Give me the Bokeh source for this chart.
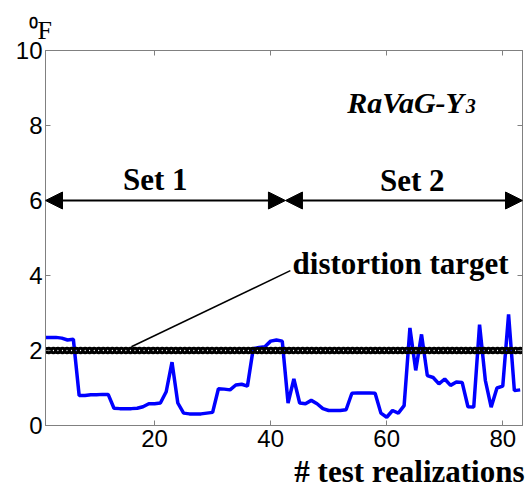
import numpy as np
from bokeh.plotting import figure
from bokeh.models import Range1d, LinearAxis, FixedTicker, Arrow, NormalHead, Label, Title
from bokeh.embed import file_html
from bokeh.resources import INLINE

# ---- data ----
realization = list(range(1, 84))
distortion = [2.35, 2.35, 2.35, 2.33, 2.28, 2.30, 0.80, 0.80, 0.82, 0.82,
              0.83, 0.83, 0.46, 0.45, 0.45, 0.45, 0.46, 0.50, 0.58, 0.58,
              0.60, 0.90, 1.69, 0.60, 0.33, 0.31, 0.31, 0.31, 0.33, 0.35,
              0.98, 0.97, 0.95, 1.08, 1.10, 1.05, 2.05, 2.08, 2.10, 2.25,
              2.28, 2.25, 0.60, 1.24, 0.60, 0.58, 0.67, 0.58, 0.45, 0.40,
              0.40, 0.40, 0.42, 0.86, 0.87, 0.87, 0.87, 0.86, 0.33, 0.22,
              0.40, 0.33, 0.53, 2.60, 1.47, 2.43, 1.33, 1.28, 1.11, 1.24,
              1.07, 1.16, 1.15, 0.50, 0.49, 2.69, 1.20, 0.49, 1.00, 1.05,
              2.96, 0.93, 0.95]
target_value = 2.0
target_x = list(np.linspace(1, 83, 106))
target_y = [target_value] * len(target_x)
set_bounds = [1.2, 42.55, 83.4]
set_names = ["Set 1", "Set 2"]
set_level = 6.0
pointer_x = [16.0, 43.4]
pointer_y = [2.1, 4.13]
x_ticks = [20, 40, 60, 80]
y_ticks = [0, 2, 4, 6, 8, 10]

GREY = "#808080"
SERIF = "Liberation Serif"
SANS = "Liberation Sans"

p = figure(width=527, height=492, x_range=Range1d(1.2, 83.4), y_range=Range1d(0, 10),
           output_backend="svg", toolbar_location=None,
           min_border_left=45, min_border_right=5, min_border_top=50, min_border_bottom=67,
           x_axis_location=None, y_axis_location=None)
p.xgrid.visible = False
p.ygrid.visible = False
p.outline_line_color = GREY
p.background_fill_color = "white"
p.border_fill_color = "white"

def style_axis(ax, show_labels, standoff):
    ax.axis_line_color = GREY
    ax.major_tick_line_color = GREY
    ax.major_tick_in = 5
    ax.major_tick_out = 0
    ax.minor_tick_line_color = None
    ax.major_label_text_font = SANS
    ax.major_label_text_color = "black"
    ax.major_label_standoff = standoff
    if show_labels:
        ax.major_label_text_font_size = "24px"
    else:
        ax.major_label_text_font_size = "0px"

xb = LinearAxis(ticker=FixedTicker(ticks=x_ticks)); style_axis(xb, True, 4)
xt = LinearAxis(ticker=FixedTicker(ticks=x_ticks)); style_axis(xt, False, 0)
yl = LinearAxis(ticker=FixedTicker(ticks=y_ticks)); style_axis(yl, True, 3)
yr = LinearAxis(ticker=FixedTicker(ticks=y_ticks)); style_axis(yr, False, 0)

p.add_layout(xb, "below")
p.add_layout(xt, "above")
p.add_layout(yl, "left")
p.add_layout(yr, "right")

p.add_layout(Title(text="# test realizations", align="right", offset=-2, standoff=4,
                   text_font=SERIF, text_font_size="31px", text_font_style="bold",
                   text_color="black"), "below")
p.add_layout(Title(text="\u2070F", align="left", offset=-17, standoff=12,
                   text_font=SERIF, text_font_size="26px", text_font_style="normal",
                   text_color="black"), "above")

# data line
p.line(realization, distortion, line_color="#0000FF", line_width=3.5)
# target circles
p.scatter(target_x, target_y, marker="circle", size=4.5, line_width=3,
          line_color="black", fill_color=None)
# pointer line
p.line(pointer_x, pointer_y, line_color="black", line_width=1.5)

# set arrows
for i in range(2):
    p.add_layout(Arrow(start=NormalHead(size=17, fill_color="black", line_color="black"),
                       end=NormalHead(size=17, fill_color="black", line_color="black"),
                       x_start=set_bounds[i], y_start=set_level,
                       x_end=set_bounds[i + 1], y_end=set_level,
                       line_color="black", line_width=2))

def lab(x, y, text, size, style="bold", align="center"):
    p.add_layout(Label(x=x, y=y, text=text, text_font=SERIF, text_font_size=size,
                       text_font_style=style, text_align=align,
                       text_baseline="alphabetic", text_color="black"))

lab(20.1, 6.56, set_names[0], "31px")
lab(64.4, 6.53, set_names[1], "31px")
lab(62.4, 4.32, "distortion target", "31px")
lab(73.3, 8.61, "RaVaG-Y", "30px", "bold italic", "right")
lab(73.6, 8.53, "3", "20px", "bold italic", "left")

open("out.html", "w").write(file_html(p, INLINE))
